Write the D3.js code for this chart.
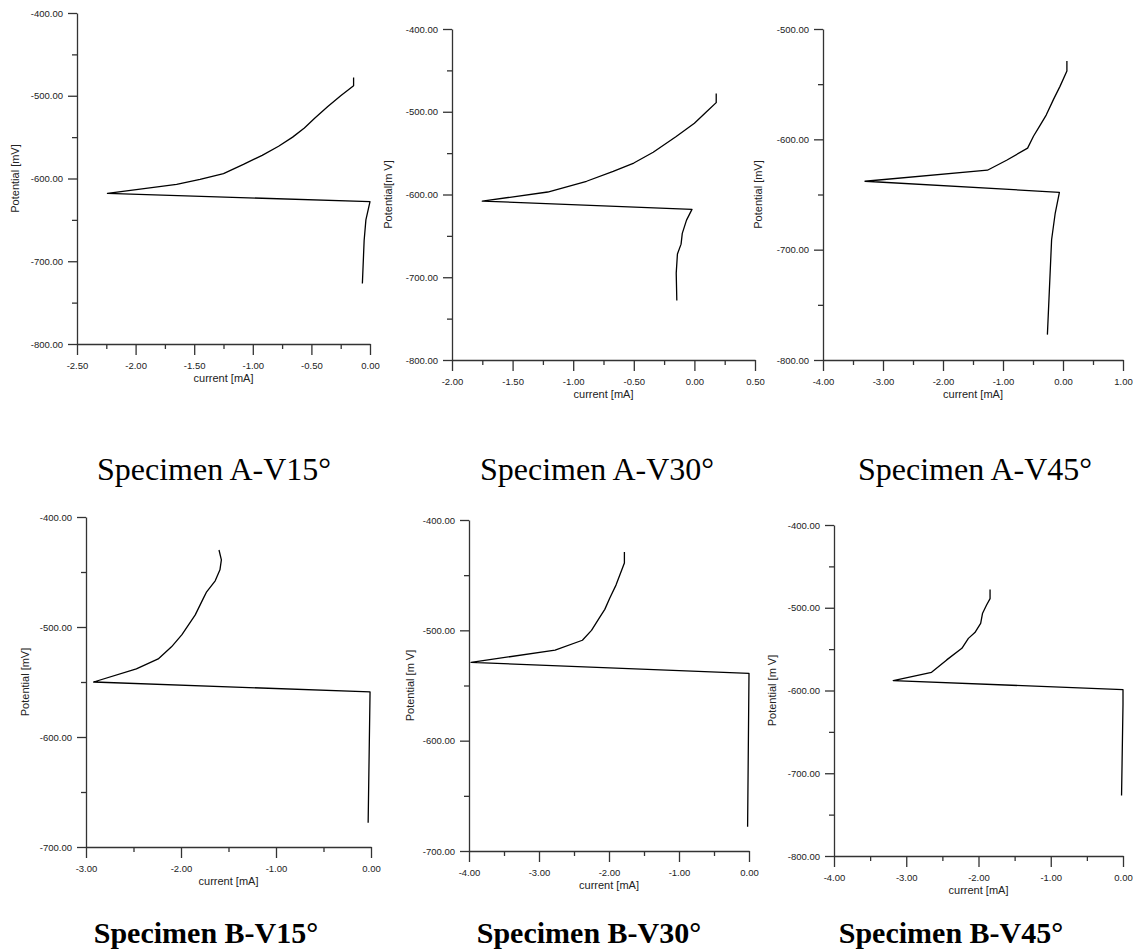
<!DOCTYPE html>
<html>
<head>
<meta charset="utf-8">
<script src="https://cdn.jsdelivr.net/npm/d3@7"></script>
<style>
  html, body { margin: 0; padding: 0; background: #fff; }
  svg { display: block; }
</style>
</head>
<body>
<svg id="chart" width="1137" height="950"></svg>
<script>
// ---------- DATA ----------
const titles = ["Specimen A-V15°", "Specimen A-V30°", "Specimen A-V45°",
                "Specimen B-V15°", "Specimen B-V30°", "Specimen B-V45°"];
const xAxisTitle = "current [mA]";
const yAxisTitles = ["Potential [mV]", "Potential[m V]", "Potential [mV]",
                     "Potential [mV]", "Potential [m V]", "Potential [m V]"];

const aV15Current   = [-0.14, -0.14, -0.25, -0.36, -0.47, -0.56, -0.66, -0.78, -0.92, -1.08, -1.25, -1.45, -1.65, -2.24, 0.00, -0.035, -0.05, -0.065];
const aV15Potential = [-478, -488, -500, -513, -527, -539, -550, -561, -572, -583, -594, -601, -607, -618, -628, -650, -675, -727];

const aV30Current   = [0.18, 0.18, 0.10, 0.00, -0.15, -0.34, -0.50, -0.67, -0.89, -1.21, -1.75, -0.02, -0.065, -0.10, -0.11, -0.14, -0.15, -0.145];
const aV30Potential = [-478, -489, -500, -514, -530, -549, -562, -572, -584, -597, -608, -618, -631, -647, -660, -672, -695, -728];

const aV45Current   = [0.065, 0.065, -0.05, -0.16, -0.28, -0.39, -0.49, -0.59, -0.94, -1.26, -3.30, -0.06, -0.13, -0.19, -0.26];
const aV45Potential = [-529, -538, -552, -564, -578, -588, -597, -608, -619, -628, -638, -648, -667, -691, -777];

const bV15Current   = [-1.60, -1.575, -1.59, -1.64, -1.73, -1.765, -1.85, -1.99, -2.10, -2.24, -2.47, -2.92, -0.01, -0.03];
const bV15Potential = [-430, -439, -448, -458, -468, -474, -489, -507, -518, -529, -538, -550, -559, -678];

const bV30Current   = [-1.78, -1.78, -1.90, -1.99, -2.06, -2.14, -2.25, -2.38, -2.77, -3.97, 0.00, -0.02];
const bV30Potential = [-429, -439, -459, -471, -481, -489, -500, -509, -518, -529, -539, -678];

const bV45Current   = [-1.84, -1.84, -1.89, -1.945, -1.97, -2.05, -2.14, -2.23, -2.44, -2.65, -3.18, 0.00, 0.00, -0.02];
const bV45Potential = [-478, -489, -497, -507, -519, -530, -537, -549, -563, -578, -588, -599, -617, -727];

// axis domains and tick steps
const xDomains = [[-2.5, 0], [-2, 0.5], [-4, 1], [-3, 0], [-4, 0], [-4, 0]];
const xMinorSteps = [0.25, 0.25, 0.5, 0.5, 0.5, 0.5];
const xLabelSteps = [0.5, 0.5, 1, 1, 1, 1];
const yDomains = [[-800, -400], [-800, -400], [-800, -500], [-700, -400], [-700, -400], [-800, -400]];
const yMinorStep = 50;
const yLabelStep = 100;

const seriesCurrent = [aV15Current, aV30Current, aV45Current, bV15Current, bV30Current, bV45Current];
const seriesPotential = [aV15Potential, aV30Potential, aV45Potential, bV15Potential, bV30Potential, bV45Potential];

// ---------- LAYOUT ----------
const plotBoxes = [
  {x0: 77,  x1: 370,  y0: 13,  y1: 344},
  {x0: 452, x1: 755,  y0: 29,  y1: 360},
  {x0: 823, x1: 1123, y0: 29,  y1: 360},
  {x0: 86,  x1: 371,  y0: 517, y1: 847},
  {x0: 469, x1: 749,  y0: 520, y1: 851},
  {x0: 834, x1: 1123, y0: 525, y1: 856}
];
const yTitleOffsets = [61, 63, 64, 60, 58, 61];
const captionPos = [
  {x: 214, y: 480, bold: false}, {x: 597, y: 480, bold: false}, {x: 975, y: 480, bold: false},
  {x: 206, y: 943, bold: true},  {x: 589, y: 943, bold: true},  {x: 951, y: 943, bold: true}
];

const svg = d3.select("#chart");
const axisColor = "#333";
const sans = "'Liberation Sans', Arial, Helvetica, sans-serif";
const serif = "'Liberation Serif', 'Times New Roman', Times, serif";

function isMultiple(v, step) {
  const r = v / step;
  return Math.abs(r - Math.round(r)) < 1e-6;
}
function fmt(v) {
  const r = Math.round(v * 100) / 100;
  return (r === 0 ? 0 : r).toFixed(2);
}

plotBoxes.forEach((b, i) => {
  const x = d3.scaleLinear().domain(xDomains[i]).range([b.x0, b.x1]);
  const y = d3.scaleLinear().domain(yDomains[i]).range([b.y1, b.y0]);

  const xTicks = d3.range(0, Math.round((xDomains[i][1] - xDomains[i][0]) / xMinorSteps[i]) + 1)
                   .map(k => xDomains[i][0] + k * xMinorSteps[i]);
  const yTicks = d3.range(0, Math.round((yDomains[i][1] - yDomains[i][0]) / yMinorStep) + 1)
                   .map(k => yDomains[i][0] + k * yMinorStep);

  const g = svg.append("g");

  // X axis
  const gx = g.append("g")
    .attr("transform", `translate(0,${b.y1})`)
    .call(d3.axisBottom(x).tickValues(xTicks).tickSize(11).tickSizeOuter(0)
      .tickFormat(d => isMultiple(d, xLabelSteps[i]) ? fmt(d) : ""));
  gx.selectAll(".tick").each(function(d) {
    const t = d3.select(this);
    if (!isMultiple(d, xLabelSteps[i])) t.select("line").attr("y2", 5);
    t.select("text").attr("y", 18).attr("dy", "0.71em");
  });

  // Y axis
  const gy = g.append("g")
    .attr("transform", `translate(${b.x0},0)`)
    .call(d3.axisLeft(y).tickValues(yTicks).tickSize(9).tickSizeOuter(0).tickPadding(5)
      .tickFormat(d => isMultiple(d, yLabelStep) ? fmt(d) : ""));
  gy.selectAll(".tick").each(function(d) {
    if (!isMultiple(d, yLabelStep)) d3.select(this).select("line").attr("x2", -5);
  });

  [gx, gy].forEach(a => {
    a.select(".domain").attr("stroke", axisColor).attr("stroke-width", 1.3);
    a.selectAll(".tick line").attr("stroke", axisColor).attr("stroke-width", 1.3);
    a.selectAll(".tick text").attr("fill", "#222")
      .style("font-family", sans).style("font-size", "9.5px");
  });

  // Axis titles
  g.append("text")
    .attr("x", (b.x0 + b.x1) / 2).attr("y", b.y1 + 35)
    .attr("text-anchor", "middle").attr("dominant-baseline", "middle")
    .style("font-family", sans).style("font-size", "11px").attr("fill", "#222")
    .text(xAxisTitle);

  g.append("text")
    .attr("transform", `translate(${b.x0 - yTitleOffsets[i]},${(b.y0 + b.y1) / 2}) rotate(-90)`)
    .attr("text-anchor", "middle").attr("dominant-baseline", "middle")
    .style("font-family", sans).style("font-size", "11px").attr("fill", "#222")
    .text(yAxisTitles[i]);

  // Curve
  const pts = seriesCurrent[i].map((c, k) => [c, seriesPotential[i][k]]);
  g.append("path")
    .datum(pts)
    .attr("fill", "none").attr("stroke", "#000").attr("stroke-width", 1.3)
    .attr("stroke-linejoin", "round")
    .attr("d", d3.line().x(d => x(d[0])).y(d => y(d[1])));

  // Caption
  const c = captionPos[i];
  svg.append("text")
    .attr("x", c.x).attr("y", c.y)
    .attr("text-anchor", "middle")
    .style("font-family", serif)
    .style("font-size", c.bold ? "30px" : "32px")
    .style("font-weight", c.bold ? "bold" : "normal")
    .attr("fill", "#000")
    .text(titles[i]);
});
</script>
</body>
</html>
